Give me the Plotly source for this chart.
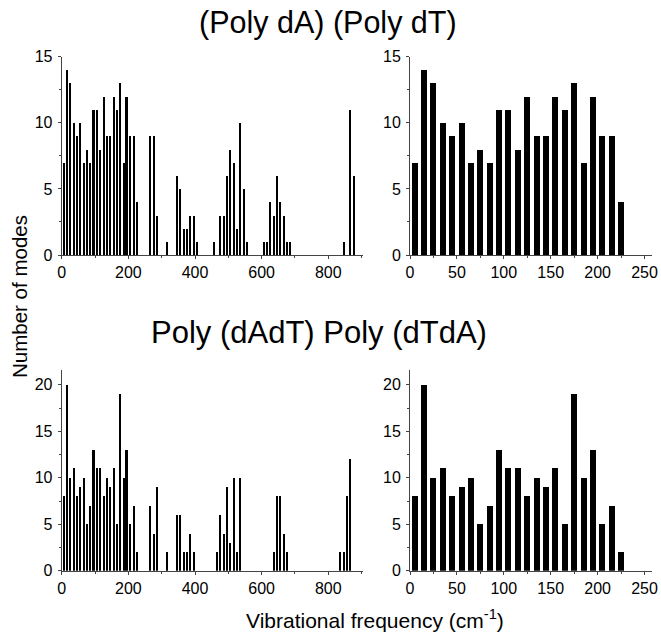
import plotly.graph_objects as go

# ---- data ----
# top panels: (Poly dA)(Poly dT)
top_full_freq = [5, 15, 25, 35, 45, 55, 65, 75, 85, 95, 105, 115, 125, 135, 145, 155, 165, 175, 185, 195, 205, 215, 225,
                 265, 275, 285, 315, 345, 355, 365, 375, 385, 395, 405, 455,
                 475, 485, 495, 505, 515, 525, 535, 545, 555,
                 605, 615, 625, 635, 645, 655, 665, 675, 685,
                 845, 865, 875]
top_full_count = [7, 14, 13, 10, 9, 10, 7, 8, 7, 11, 11, 8, 12, 9, 9, 12, 11, 13, 7, 12, 9, 9, 4,
                  9, 9, 3, 1, 6, 5, 2, 2, 3, 3, 1, 1,
                  3, 3, 6, 8, 7, 2, 10, 5, 1,
                  1, 1, 4, 3, 6, 4, 3, 1, 1,
                  1, 11, 6]
top_low_freq = [5, 15, 25, 35, 45, 55, 65, 75, 85, 95, 105, 115, 125, 135, 145, 155, 165, 175, 185, 195, 205, 215, 225]
top_low_count = [7, 14, 13, 10, 9, 10, 7, 8, 7, 11, 11, 8, 12, 9, 9, 12, 11, 13, 7, 12, 9, 9, 4]

# bottom panels: Poly(dAdT) Poly(dTdA)
bot_full_freq = [5, 15, 25, 35, 45, 55, 65, 75, 85, 95, 105, 115, 125, 135, 145, 155, 165, 175, 185, 195, 205, 215, 225,
                 265, 275, 285, 315, 345, 355, 365, 375, 385, 395,
                 465, 475, 485, 495, 505, 515, 525, 535,
                 635, 645, 655, 665, 675,
                 835, 845, 855, 865]
bot_full_count = [8, 20, 10, 11, 8, 9, 10, 5, 7, 13, 11, 11, 8, 10, 9, 11, 5, 19, 10, 13, 5, 7, 2,
                  7, 4, 9, 2, 6, 6, 2, 2, 4, 2,
                  2, 6, 4, 9, 3, 10, 2, 10,
                  2, 8, 8, 4, 2,
                  2, 2, 8, 12]
bot_low_freq = [5, 15, 25, 35, 45, 55, 65, 75, 85, 95, 105, 115, 125, 135, 145, 155, 165, 175, 185, 195, 205, 215, 225]
bot_low_count = [8, 20, 10, 11, 8, 9, 10, 5, 7, 13, 11, 11, 8, 10, 9, 11, 5, 19, 10, 13, 5, 7, 2]

titles = ["(Poly dA) (Poly dT)", "Poly (dAdT) Poly (dTdA)"]
x_title = "Vibrational frequency (cm<sup>-1</sup>)"
y_title = "Number of modes"

W, H = 661, 634
FONT = "Liberation Sans, Arial, sans-serif"

def px_x(a, b):
    return [a / W, b / W]

def px_y(top, bottom):
    return [1 - bottom / H, 1 - top / H]

def pos(x, y):
    return x / W, 1 - y / H

fig = go.Figure()
for xs, ys, xa, ya, bw in [(top_full_freq, top_full_count, "x", "y", 6.0),
                           (top_low_freq, top_low_count, "x2", "y2", 6.4),
                           (bot_full_freq, bot_full_count, "x3", "y3", 6.0),
                           (bot_low_freq, bot_low_count, "x4", "y4", 6.4)]:
    fig.add_trace(go.Bar(x=xs, y=ys, width=bw, marker=dict(color="black", line=dict(width=0)),
                         xaxis=xa, yaxis=ya, showlegend=False, hoverinfo="x+y"))

axcol = "#444444"
tickfont = dict(family=FONT, size=16, color="black")

def xax(domain, rng, dtick, minor_dtick, anchor):
    return dict(domain=domain, range=rng, anchor=anchor, showgrid=False, zeroline=False, automargin=False,
                showline=True, linecolor=axcol, linewidth=1, ticks="outside", ticklen=3,
                tickcolor=axcol, tick0=0, dtick=dtick, tickfont=tickfont,
                minor=dict(ticks="outside", ticklen=2, tickcolor=axcol, dtick=minor_dtick, tick0=0, showgrid=False))

def yax(domain, rng, dtick, anchor):
    return dict(domain=domain, range=rng, anchor=anchor, showgrid=False, zeroline=False, automargin=False,
                showline=True, linecolor=axcol, linewidth=1, ticks="outside", ticklen=3,
                tickcolor=axcol, tick0=0, dtick=dtick, tickfont=tickfont, ticklabelstandoff=2,
                minor=dict(ticks="outside", ticklen=2, tickcolor=axcol, dtick=dtick / 2, tick0=0, showgrid=False))

xl = px_x(61.7, 363.3)
xr = px_x(410, 651.7)
yt = px_y(56.7, 255)
yb = px_y(370, 570.7)

fig.update_layout(
    width=W, height=H, autosize=False,
    margin=dict(l=0, r=0, t=0, b=0, autoexpand=False),
    paper_bgcolor="white", plot_bgcolor="white",
    font=dict(family=FONT, color="black"),
    xaxis=xax(xl, [0, 905], 200, 100, "y"),
    yaxis=yax(yt, [0, 15], 5, "x"),
    xaxis2=xax(xr, [0, 257.7], 50, 25, "y2"),
    yaxis2=yax(yt, [0, 15], 5, "x2"),
    xaxis3=xax(xl, [0, 905], 200, 100, "y3"),
    yaxis3=yax(yb, [0, 21.6], 5, "x3"),
    xaxis4=xax(xr, [0, 257.7], 50, 25, "y4"),
    yaxis4=yax(yb, [0, 21.6], 5, "x4"),
    bargap=0,
)

for text, (px, py), size, ang in [(titles[0], (328, 22), 30.5, 0),
                                  (titles[1], (319, 332), 31, 0),
                                  (x_title, (375, 619), 21, 0),
                                  (y_title, (19, 297), 20.5, -90)]:
    ax_, ay_ = pos(px, py)
    fig.add_annotation(text=text, x=ax_, y=ay_, xref="paper", yref="paper",
                       xanchor="center", yanchor="middle", showarrow=False, textangle=ang,
                       font=dict(family=FONT, size=size, color="black"))

fig.write_html("out.html", config={"displayModeBar": False},
               post_script="document.body.style.margin='0';document.body.style.overflow='hidden';")
